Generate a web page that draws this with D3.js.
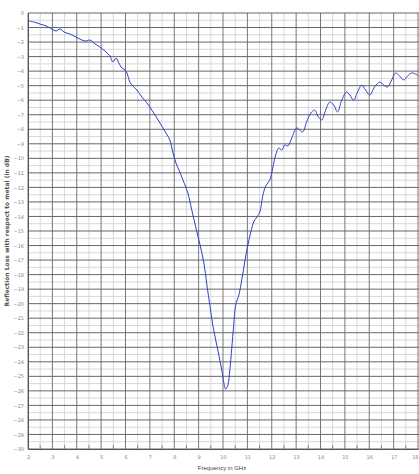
<!DOCTYPE html>
<html>
<head>
<meta charset="utf-8">
<script src="https://cdn.jsdelivr.net/npm/d3@7"></script>
<style>
  body { margin: 0; background: #fff; }
  svg { display: block; }
</style>
</head>
<body>
<svg id="chart"></svg>
<script>
var freq = [2.0, 2.25, 2.49, 2.74, 2.98, 3.15, 3.31, 3.48, 3.72, 3.97, 4.21, 4.38, 4.54, 4.75, 4.95,
  5.16, 5.36, 5.48, 5.61, 5.73, 5.85, 5.98, 6.06, 6.18, 6.30, 6.47, 6.67, 6.88, 7.08, 7.29,
  7.49, 7.66, 7.82, 7.94, 8.07, 8.23, 8.39, 8.56, 8.72, 8.89, 9.05, 9.21, 9.34, 9.46, 9.58,
  9.70, 9.83, 9.95, 10.03, 10.11, 10.20, 10.28, 10.36, 10.44, 10.52, 10.65, 10.77, 10.89, 11.02, 11.14,
  11.26, 11.39, 11.51, 11.63, 11.75, 11.92, 12.04, 12.16, 12.29, 12.41, 12.53, 12.66, 12.82, 13.02, 13.15,
  13.27, 13.43, 13.60, 13.76, 13.89, 14.05, 14.21, 14.38, 14.54, 14.70, 14.87, 15.07, 15.20, 15.36, 15.52,
  15.69, 15.85, 16.02, 16.22, 16.43, 16.59, 16.75, 16.92, 17.08, 17.25, 17.41, 17.57, 17.74, 17.90, 18.02];
var loss = [-0.55, -0.62, -0.76, -0.89, -1.10, -1.24, -1.10, -1.31, -1.45, -1.65, -1.86, -1.93, -1.86, -2.13, -2.34,
  -2.62, -2.96, -3.37, -3.10, -3.44, -3.79, -3.92, -4.13, -4.75, -5.02, -5.30, -5.78, -6.19, -6.68, -7.23,
  -7.78, -8.26, -8.74, -9.57, -10.32, -10.94, -11.63, -12.39, -13.56, -14.80, -15.90, -17.14, -18.72, -20.10, -21.47,
  -22.50, -23.54, -24.57, -25.40, -25.88, -25.60, -24.57, -23.06, -21.47, -20.10, -19.41, -18.38, -17.14, -15.97, -15.07,
  -14.38, -14.04, -13.70, -12.60, -11.91, -11.49, -10.67, -9.77, -9.29, -9.43, -9.08, -9.15, -8.60, -7.91, -8.05,
  -8.19, -7.50, -6.88, -6.68, -7.09, -7.36, -6.68, -6.13, -6.33, -6.81, -5.99, -5.44, -5.64, -5.99, -5.44,
  -4.96, -5.30, -5.64, -5.09, -4.75, -4.96, -5.09, -4.61, -4.13, -4.34, -4.61, -4.34, -4.13, -4.20, -4.34];

var xTicks = [2, 3, 4, 5, 6, 7, 8, 9, 10, 11, 12, 13, 14, 15, 16, 17, 18];
var yTicks = d3.range(0, -31, -1);

var width = 419, height = 474;
var margin = {top: 13, right: 1, bottom: 25, left: 28};

var svg = d3.select("#chart")
  .attr("width", width)
  .attr("height", height);

var x = d3.scaleLinear()
  .domain([2, 18])
  .range([margin.left, width - margin.right]);

var y = d3.scaleLinear()
  .domain([0, -30])
  .range([margin.top, height - margin.bottom]);

// minor grid
var minorX = d3.range(2.5, 18, 1);
var minorY = d3.range(-0.5, -30, -1);

svg.append("g").selectAll("line")
  .data(minorX)
  .enter().append("line")
  .attr("x1", function (d) { return x(d); })
  .attr("x2", function (d) { return x(d); })
  .attr("y1", y(0))
  .attr("y2", y(-30))
  .attr("stroke", "#d8d8d8")
  .attr("stroke-width", 1);

svg.append("g").selectAll("line")
  .data(minorY)
  .enter().append("line")
  .attr("x1", x(2))
  .attr("x2", width)
  .attr("y1", function (d) { return y(d); })
  .attr("y2", function (d) { return y(d); })
  .attr("stroke", "#d8d8d8")
  .attr("stroke-width", 1);

// major grid
svg.append("g").selectAll("line")
  .data(xTicks)
  .enter().append("line")
  .attr("x1", function (d) { return x(d); })
  .attr("x2", function (d) { return x(d); })
  .attr("y1", y(0))
  .attr("y2", y(-30))
  .attr("stroke", "#777")
  .attr("stroke-width", 1);

svg.append("g").selectAll("line")
  .data(yTicks)
  .enter().append("line")
  .attr("x1", x(2))
  .attr("x2", width)
  .attr("y1", function (d) { return y(d); })
  .attr("y2", function (d) { return y(d); })
  .attr("stroke", "#666")
  .attr("stroke-width", 1);

// axes
var xAxis = d3.axisBottom(x)
  .tickValues(xTicks)
  .tickSize(0)
  .tickPadding(6)
  .tickFormat(d3.format("d"));

var yAxis = d3.axisLeft(y)
  .tickValues(yTicks)
  .tickSize(0)
  .tickPadding(4)
  .tickFormat(function (d) { return d === 0 ? "0" : "\u2212" + Math.abs(d); });

var gx = svg.append("g")
  .attr("transform", "translate(0," + y(-30) + ")")
  .call(xAxis);

var gy = svg.append("g")
  .attr("transform", "translate(" + x(2) + ",0)")
  .call(yAxis);

[gx, gy].forEach(function (g) {
  g.select(".domain").attr("stroke", "#555");
  g.selectAll("text")
    .attr("fill", "#888")
    .style("font-family", "DejaVu Sans")
    .style("font-size", "5px");
});

// keep the last frequency label inside the window
gx.selectAll(".tick text")
  .filter(function (d) { return d === 18; })
  .attr("text-anchor", "end");

// short minor tick marks along the bottom
svg.append("g").selectAll("line")
  .data(minorX)
  .enter().append("line")
  .attr("x1", function (d) { return x(d); })
  .attr("x2", function (d) { return x(d); })
  .attr("y1", y(-30))
  .attr("y2", y(-30) - 4)
  .attr("stroke", "#888");

// curve
var line = d3.line()
  .x(function (d, i) { return x(freq[i]); })
  .y(function (d) { return y(d); })
  .curve(d3.curveCatmullRom);

svg.append("path")
  .datum(loss)
  .attr("d", line)
  .attr("fill", "none")
  .attr("stroke", "#3040cc")
  .attr("stroke-width", 1);

// titles
svg.append("text")
  .attr("x", 222)
  .attr("y", height - 4)
  .attr("text-anchor", "middle")
  .style("font-family", "Liberation Sans Narrow, Liberation Sans")
  .style("font-size", "6px")
  .attr("fill", "#444")
  .text("Frequency in GHz");

svg.append("text")
  .attr("transform", "translate(9," + ((y(0) + y(-30)) / 2) + ") rotate(-90)")
  .attr("text-anchor", "middle")
  .style("font-family", "DejaVu Sans")
  .style("font-size", "6px")
  .style("font-weight", "bold")
  .attr("fill", "#555")
  .text("Reflection Loss with respect to metal (in dB)");
</script>
</body>
</html>
